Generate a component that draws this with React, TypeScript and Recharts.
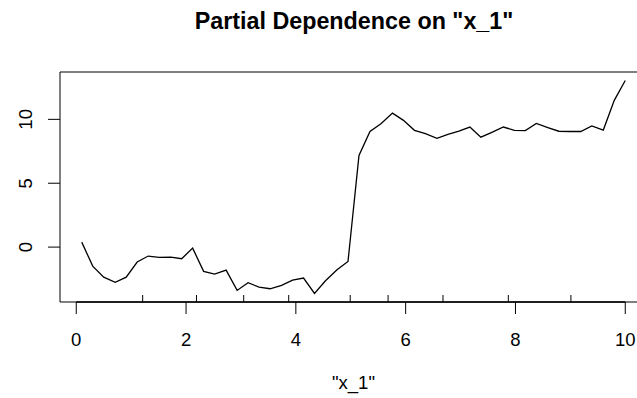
import {
    ComposedChart,
    Line,
    Scatter,
    XAxis,
    YAxis,
    ReferenceArea,
    ReferenceLine,
} from "recharts";

// grid of x_1 values used for the partial dependence curve
const X_GRID = [
    0.1, 0.3, 0.5, 0.71, 0.91, 1.11, 1.31, 1.51, 1.72, 1.92,
    2.12, 2.32, 2.52, 2.73, 2.93, 3.13, 3.33, 3.53, 3.74, 3.94,
    4.14, 4.34, 4.54, 4.75, 4.95, 5.15, 5.35, 5.55, 5.76, 5.96,
    6.16, 6.36, 6.57, 6.77, 6.97, 7.17, 7.37, 7.58, 7.78, 7.98,
    8.18, 8.38, 8.59, 8.79, 8.99, 9.19, 9.39, 9.6, 9.8, 10.0,
];

// partial dependence values
const PD_VALUES = [
    0.39, -1.49, -2.35, -2.76, -2.35, -1.17, -0.7, -0.81, -0.78, -0.91,
    -0.08, -1.9, -2.11, -1.8, -3.39, -2.79, -3.13, -3.26, -3.0, -2.58,
    -2.42, -3.63, -2.63, -1.77, -1.12, 7.18, 9.06, 9.66, 10.49, 9.92,
    9.14, 8.88, 8.51, 8.83, 9.08, 9.4, 8.61, 9.0, 9.4, 9.14,
    9.12, 9.68, 9.36, 9.07, 9.05, 9.05, 9.48, 9.16, 11.49, 13.04,
];

// deciles of x_1 (rug marks)
const RUG_X = [1.21, 2.19, 3.05, 3.87, 4.99, 5.68, 6.68, 7.87, 9.01];

const X_TICKS = [0, 2, 4, 6, 8, 10];
const Y_TICKS = [0, 5, 10];

const TITLE = 'Partial Dependence on "x_1"';
const X_LABEL = '"x_1"';

const FONT = '"Liberation Sans", Arial, Helvetica, sans-serif';

// R style 4% padding around the data range
function padRange(values: number[]): [number, number] {
    const lo = Math.min(...values);
    const hi = Math.max(...values);
    const pad = (hi - lo) * 0.04;
    return [lo - pad, hi + pad];
}

const [xMin, xMax] = padRange(X_GRID);
const [yMin, yMax] = padRange(PD_VALUES);

const data = X_GRID.map((x, i) => ({ x, y: PD_VALUES[i] }));
const rugData = RUG_X.map((x) => ({ x, y: yMin }));

function RugTick(props: any) {
    const { cx, cy } = props;
    return <line x1={cx} x2={cx} y1={cy} y2={cy - 7} stroke="#000" strokeWidth={1} />;
}

function YTick(props: any) {
    const { x, y, payload } = props;
    return (
        <text
            x={x}
            y={y}
            transform={`rotate(-90, ${x}, ${y})`}
            textAnchor="middle"
            fontSize={18.5}
            fontFamily={FONT}
            fill="#000"
        >
            {payload.value}
        </text>
    );
}

export default function App() {
    return (
        <div
            style={{
                position: "absolute",
                left: 0,
                top: 0,
                width: 637,
                height: 398,
                overflow: "hidden",
                background: "#fff",
            }}
        >
            <ComposedChart
                width={700}
                height={398}
                data={data}
                margin={{ top: 72, right: 53, left: 0, bottom: 66 }}
            >
                <XAxis
                    dataKey="x"
                    type="number"
                    domain={[xMin, xMax]}
                    allowDataOverflow
                    ticks={X_TICKS}
                    height={30}
                    axisLine={false}
                    tickLine={{ stroke: "#000" }}
                    tickSize={12}
                    tickMargin={19}
                    tick={{ fill: "#000", fontSize: 18.5, fontFamily: FONT }}
                />
                <YAxis
                    type="number"
                    domain={[yMin, yMax]}
                    allowDataOverflow
                    ticks={Y_TICKS}
                    width={60}
                    axisLine={false}
                    tickLine={{ stroke: "#000" }}
                    tickSize={12}
                    tickMargin={16}
                    tick={<YTick />}
                />
                <ReferenceArea
                    x1={xMin}
                    x2={xMax}
                    y1={yMin}
                    y2={yMax}
                    fill="none"
                    stroke="#000"
                    strokeWidth={1}
                    ifOverflow="visible"
                />
                <ReferenceLine
                    segment={[
                        { x: X_TICKS[0], y: yMin },
                        { x: X_TICKS[X_TICKS.length - 1], y: yMin },
                    ]}
                    stroke="#000"
                    strokeWidth={1.5}
                    ifOverflow="visible"
                />
                <Line
                    type="linear"
                    dataKey="y"
                    stroke="#000"
                    strokeWidth={1.3}
                    dot={false}
                    activeDot={false}
                    isAnimationActive={false}
                />
                <Scatter
                    data={rugData}
                    dataKey="y"
                    shape={<RugTick />}
                    isAnimationActive={false}
                />
            </ComposedChart>
            <svg
                width={637}
                height={398}
                style={{ position: "absolute", left: 0, top: 0, pointerEvents: "none" }}
            >
                <text
                    x={354}
                    y={29}
                    textAnchor="middle"
                    fontSize={23.3}
                    fontWeight="bold"
                    fontFamily={FONT}
                    fill="#000"
                >
                    {TITLE}
                </text>
                <text
                    x={353.5}
                    y={389}
                    textAnchor="middle"
                    fontSize={18.5}
                    fontFamily={FONT}
                    fill="#000"
                >
                    {X_LABEL}
                </text>
            </svg>
        </div>
    );
}
